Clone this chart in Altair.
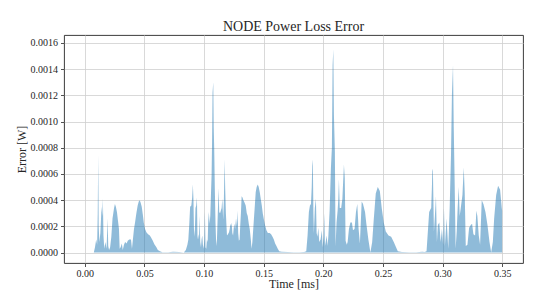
import altair as alt
import pandas as pd

# ---- data (time in ms, error in W) ----
seg0_t = [0.0, 0.0075, 0.0085, 0.0095, 0.0103, 0.0108, 0.0112, 0.0116, 0.0122, 0.0130,
          0.0140, 0.0146, 0.0151, 0.0156, 0.0163, 0.0172, 0.0182, 0.0191, 0.0196, 0.0203,
          0.0212, 0.0222, 0.0232, 0.0245, 0.0252, 0.0260, 0.0269, 0.0278, 0.0286, 0.0292,
          0.0300, 0.0310, 0.0318, 0.0328, 0.0338, 0.0350, 0.0360, 0.0372, 0.0387, 0.0395,
          0.0403, 0.0412, 0.0421, 0.0432, 0.0443, 0.0452, 0.0460, 0.0468, 0.0477, 0.0486,
          0.0494, 0.0505, 0.0516, 0.0530, 0.0545, 0.0555, 0.0570, 0.0583, 0.0600, 0.0612,
          0.0630, 0.0650, 0.0700, 0.0740, 0.0790, 0.0830]
seg0_v = [0.0, 0.0, 0.00004, 0.0001, 0.00006, 0.0003, 0.00074, 0.0002, 0.00008, 0.00015,
          0.00035, 0.00028, 0.00041, 0.00013, 0.00003, 0.00008, 0.00003, 0.00026, 0.00005, 0.00002,
          0.00004, 0.00012, 0.00026, 0.00034, 0.00037, 0.00035, 0.00031, 0.00024, 0.00018, 0.00003,
          0.00004, 0.00007, 0.00002, 0.00006, 0.00008, 0.00007, 0.00009, 0.0001, 0.0001, 0.00003,
          0.0001, 0.00018, 0.00023, 0.0003, 0.00036, 0.00039, 0.0004, 0.00038, 0.00035, 0.00029,
          0.00023, 0.00018, 0.000155, 0.00014, 0.00013, 0.000115, 0.00009, 0.000064, 0.00004, 0.00002,
          0.00001, 0.000003, 0.000002, 0.000006, 0.000004, 0.000001]

seg1_t = [0.0847, 0.0860, 0.0868, 0.0876, 0.0883, 0.0893, 0.0900, 0.0906, 0.0911, 0.0915,
          0.0921, 0.0928, 0.0934, 0.0940, 0.0945, 0.0951, 0.0957, 0.0962, 0.0968, 0.0974,
          0.0979, 0.0985, 0.0990, 0.0996, 0.1002, 0.1007, 0.1012, 0.1018, 0.1024, 0.1030,
          0.1035, 0.1040, 0.1046, 0.1052, 0.1058, 0.1063, 0.1067, 0.1071, 0.1077, 0.1081,
          0.1085, 0.1090, 0.1096, 0.1102, 0.1108, 0.1115, 0.1122, 0.1127, 0.1134, 0.1140,
          0.1147, 0.1153, 0.1160, 0.1166, 0.1172, 0.1177, 0.1183, 0.1188, 0.1192, 0.1200,
          0.1209, 0.1215, 0.1220, 0.1226, 0.1231, 0.1237, 0.1243, 0.1249, 0.1254, 0.1260,
          0.1268, 0.1275, 0.1281, 0.1286, 0.1292, 0.1298, 0.1303, 0.1309, 0.1315, 0.1322,
          0.1330, 0.1340, 0.1349, 0.1358, 0.1366, 0.1375, 0.1383, 0.1392, 0.1398, 0.1405,
          0.1410, 0.1416, 0.1425, 0.1433, 0.1441, 0.1450, 0.1458, 0.1467, 0.1475, 0.1484,
          0.1492, 0.1500, 0.1511, 0.1523, 0.1535, 0.1550, 0.1562, 0.1574, 0.1585, 0.1596,
          0.1607, 0.1618, 0.1630, 0.1650, 0.1700, 0.1750, 0.1800, 0.1840]
seg1_v = [0.00002, 0.00006, 0.0001, 0.00022, 0.00035, 0.00036, 0.00042, 0.00052, 0.0004, 0.00018,
          0.00012, 0.00034, 0.00036, 0.00042, 0.0001, 0.00014, 0.0001, 0.00028, 0.00008, 0.00004,
          0.0001, 0.00013, 0.00006, 0.00003, 0.0001, 0.00031, 0.00004, 0.00003, 0.0001, 0.00008,
          0.00024, 0.00031, 0.00022, 0.00028, 0.00045, 0.00059, 0.00085, 0.00122, 0.0013, 0.00095,
          0.00079, 0.00049, 0.00022, 0.00005, 0.0001, 0.0003, 0.00049, 0.00031, 0.0003, 0.00032,
          0.00034, 0.00041, 0.00025, 0.0004, 0.00071, 0.00049, 0.0003, 0.0002, 0.00013, 0.00014,
          0.000155, 0.00018, 0.00022, 0.0002, 0.00023, 0.00015, 0.00013, 0.00019, 0.00022, 0.00018,
          0.00026, 0.0002, 0.00032, 0.00015, 0.00009, 0.0001, 0.0002, 0.0003, 0.00043, 0.00042,
          0.0004, 0.00038, 0.00036, 0.0003, 0.00028, 0.00022, 0.00018, 0.0001, 0.00003, 0.00008,
          0.00015, 0.00023, 0.00035, 0.00046, 0.0005, 0.00052, 0.0005, 0.00046, 0.00041, 0.00036,
          0.0003, 0.00026, 0.00021, 0.00017, 0.00015, 0.00015, 0.00014, 0.00012, 0.0001, 0.00007,
          0.00005, 0.00003, 0.00001, 0.000006, 0.000004, 0.000003, 0.000002, 0.000004]

seg2_t = [0.1857, 0.1868, 0.1879, 0.1890, 0.1896, 0.1903, 0.1907, 0.1912, 0.1917, 0.1921,
          0.1929, 0.1938, 0.1944, 0.1951, 0.1958, 0.1966, 0.1977, 0.1988, 0.1994, 0.2002,
          0.2008, 0.2014, 0.2020, 0.2028, 0.2036, 0.2042, 0.2053, 0.2064, 0.2072, 0.2078,
          0.2084, 0.2089, 0.2097, 0.2103, 0.2111, 0.2120, 0.2126, 0.2131, 0.2138, 0.2150,
          0.2160, 0.2173, 0.2180, 0.2187, 0.2197, 0.2204, 0.2215, 0.2227, 0.2240, 0.2249,
          0.2262, 0.2274, 0.2285, 0.2296, 0.2307, 0.2322, 0.2333, 0.2350, 0.2361, 0.2378,
          0.2395, 0.2410, 0.2423, 0.2440, 0.2457, 0.2474, 0.2490, 0.2507, 0.2524, 0.2547,
          0.2569, 0.2591, 0.2610, 0.2625, 0.2660, 0.2720, 0.2780, 0.2830, 0.2850]
seg2_v = [0.00001, 0.00013, 0.00031, 0.00037, 0.00036, 0.0005, 0.00066, 0.00071, 0.0003, 0.00015,
          0.00034, 0.00041, 0.00015, 0.00012, 0.00019, 0.00008, 0.0001, 0.00017, 0.00004, 0.00012,
          0.0003, 0.00005, 0.00008, 0.00013, 0.00005, 0.00012, 0.00032, 0.00065, 0.0008, 0.00143,
          0.00155, 0.00105, 0.00077, 0.00005, 0.00023, 0.00032, 0.00041, 0.00056, 0.00034, 0.00034,
          0.00041, 0.00067, 0.00057, 0.00009, 0.00006, 0.00008, 0.00018, 0.00023, 0.00023, 0.00017,
          0.00018, 0.00031, 0.00037, 0.00018, 0.00007, 0.00039, 0.00037, 0.00031, 0.00022, 0.0001,
          0.0, 0.00008, 0.00025, 0.00045, 0.0005, 0.00047, 0.00034, 0.00023, 0.00016, 0.00013,
          0.00012, 0.00008, 0.00004, 0.00001, 0.000004, 0.000003, 0.000003, 0.000006, 0.000004]

seg3_t = [0.2866, 0.2877, 0.2888, 0.2899, 0.2905, 0.2911, 0.2914, 0.2919, 0.2928, 0.2936,
          0.2945, 0.2953, 0.2961, 0.2973, 0.2984, 0.2995, 0.3005, 0.3012, 0.3020, 0.3034,
          0.3048, 0.3060, 0.3071, 0.3079, 0.3088, 0.3094, 0.3102, 0.3110, 0.3119, 0.3127,
          0.3136, 0.3144, 0.3153, 0.3167, 0.3178, 0.3186, 0.3195, 0.3209, 0.3223, 0.3237,
          0.3248, 0.3259, 0.3273, 0.3284, 0.3292, 0.3304, 0.3315, 0.3329, 0.3343, 0.3360,
          0.3377, 0.3394, 0.3408, 0.3422, 0.3433, 0.3450, 0.3466, 0.3483, 0.3497, 0.3500]
seg3_v = [0.00001, 0.00016, 0.00031, 0.00033, 0.00034, 0.0005, 0.00062, 0.00064, 0.00016, 0.00028,
          0.00043, 0.00008, 0.00021, 0.00023, 0.00008, 0.00018, 0.00006, 0.00034, 0.00005, 0.00026,
          0.00003, 0.00034, 0.00074, 0.00121, 0.00143, 0.00096, 0.00052, 0.00003, 0.00016, 0.00034,
          0.0005, 0.00028, 0.00034, 0.00044, 0.00065, 0.00046, 0.00005, 0.00006, 0.00019, 0.00021,
          0.00022, 0.00014, 0.00013, 0.00032, 0.00028, 0.00013, 0.00006, 0.0004, 0.00037, 0.00031,
          0.00021, 0.00008, 0.0, 0.00008, 0.00026, 0.00044, 0.00051, 0.00048, 0.00034, 0.00032]

x_ticks = [0.0, 0.05, 0.10, 0.15, 0.20, 0.25, 0.30, 0.35]
y_ticks = [0.0, 0.0002, 0.0004, 0.0006, 0.0008, 0.0010, 0.0012, 0.0014, 0.0016]

df = pd.DataFrame({
    "t": seg0_t + seg1_t + seg2_t + seg3_t,
    "err": seg0_v + seg1_v + seg2_v + seg3_v,
})

FONT = "Liberation Serif"
INK = "#262626"

chart = (
    alt.Chart(df)
    .mark_area(color="#1f77b4", opacity=0.5, interpolate="linear")
    .encode(
        x=alt.X("t:Q",
                scale=alt.Scale(domain=[-0.0175, 0.3675], nice=False, zero=False),
                axis=alt.Axis(values=x_ticks, format=".2f", title="Time [ms]",
                              labelPadding=2, titlePadding=0)),
        y=alt.Y("err:Q",
                scale=alt.Scale(domain=[-0.0000795, 0.00166], nice=False, zero=False),
                axis=alt.Axis(values=y_ticks, format=".4f", title="Error [W]",
                              labelPadding=3, titlePadding=2)),
        y2=alt.datum(0),
    )
    .properties(
        width=459, height=228,
        title="NODE Power Loss Error",
        autosize="none",
        padding={"left": 56, "top": 27, "right": 29, "bottom": 30},
    )
    .configure_axis(
        grid=True, gridColor="#cfcfcf", gridWidth=0.8,
        domain=False,
        tickColor=INK, tickSize=3.5, tickWidth=0.8,
        labelFont=FONT, labelFontSize=10, labelColor=INK,
        titleFont=FONT, titleFontSize=12, titleFontWeight="normal", titleColor=INK,
    )
    .configure_view(stroke=INK, strokeWidth=0.9)
    .configure_title(font=FONT, fontSize=14, fontWeight="normal", color=INK, offset=1)
)

chart.save("out.html", embed_options={"renderer": "svg", "actions": False})
